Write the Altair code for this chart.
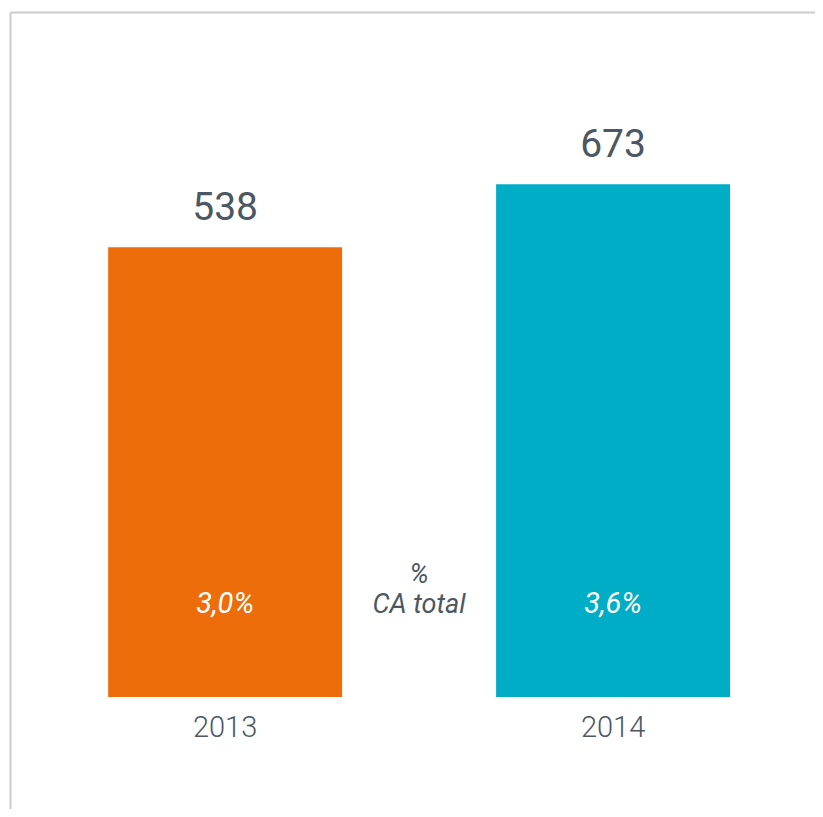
import altair as alt
import pandas as pd

years = ["2013", "2014"]
values = [538, 673]
shares = ["3,0%", "3,6%"]
colors = ["#EC6D0A", "#00ADC6"]
BASE = -426

df = pd.DataFrame({"year": years, "value": values, "share": shares})

FONT = "Roboto, DejaVu Sans Condensed, sans-serif"
TEXT = "#4B5863"
LINE = "#CCCCCC"

x_axis = alt.Axis(orient="top", labels=False, ticks=False, title=None,
                  domainColor=LINE, domainWidth=2, grid=False)
y_axis = alt.Axis(labels=False, ticks=False, title=None, grid=False,
                  domainColor=LINE, domainWidth=2)
x_scale = alt.Scale(paddingInner=0.397, paddingOuter=0.236, align=0.536)
y_scale = alt.Scale(domain=[-666, 1042], nice=False, zero=False)

X = alt.X("year:N", sort=years, scale=x_scale, axis=x_axis)

base = alt.Chart(df)

bars = base.mark_bar().encode(
    x=X,
    y=alt.Y("value:Q", scale=y_scale, axis=y_axis),
    y2=alt.Y2(datum=BASE),
    color=alt.Color("year:N", scale=alt.Scale(domain=years, range=colors), legend=None),
)

value_labels = base.mark_text(font=FONT, fontSize=39, fontWeight=400, color=TEXT,
                              baseline="alphabetic", dy=-27).encode(
    x=X,
    y=alt.Y("value:Q", scale=y_scale, axis=y_axis),
    text="value:Q",
)

share_labels = base.mark_text(font=FONT, fontSize=29, fontStyle="italic",
                              color="white", baseline="middle", dy=-93).encode(
    x=X,
    y=alt.Y(datum=BASE, scale=y_scale, axis=y_axis),
    text="share:N",
)

year_labels = base.mark_text(font=FONT, fontSize=29, fontWeight=300, color=TEXT,
                             baseline="middle", dy=31).encode(
    x=X,
    y=alt.Y(datum=BASE, scale=y_scale, axis=y_axis),
    text="year:N",
)

note = alt.Chart(pd.DataFrame({"t": [0]})).mark_text(
    font=FONT, fontSize=27, fontStyle="italic", color=TEXT,
    baseline="middle", lineHeight=30, dy=-122,
).encode(
    x=alt.value(409),
    y=alt.Y(datum=BASE, scale=y_scale, axis=y_axis),
    text=alt.value(["%", "CA total"]),
)

chart = alt.layer(bars, value_labels, share_labels, year_labels, note).properties(
    width=805, height=797,
    autosize=alt.AutoSizeParams(type="none"),
    padding={"left": 2, "top": 4, "right": 0, "bottom": 0},
).configure_view(stroke=None)

chart.save("out.html", embed_options={"renderer": "svg", "actions": False})
